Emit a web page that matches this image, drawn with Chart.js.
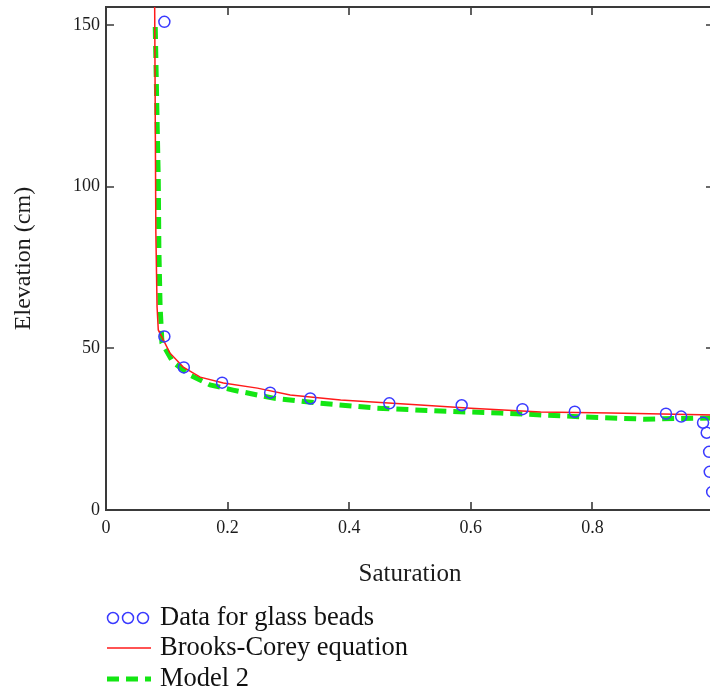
<!DOCTYPE html>
<html>
<head>
<meta charset="utf-8">
<title>Saturation profile</title>
<script src="https://cdn.jsdelivr.net/npm/chart.js@4.4.1/dist/chart.umd.min.js"></script>
<style>
  html, body { margin: 0; padding: 0; background: #fff; overflow: hidden; }
  #wrap { position: relative; width: 730px; height: 689px; }
</style>
</head>
<body>
<div id="wrap"><canvas id="chart"></canvas></div>
<script>
// measured saturation vs elevation, glass beads column
const beadS = [0.096, 0.096, 0.128, 0.191, 0.270, 0.336, 0.466, 0.585, 0.685, 0.771, 0.921, 0.946, 0.982, 0.988, 0.992, 0.993, 0.997];
const beadZ = [151, 53.7, 44.1, 39.4, 36.3, 34.5, 33.0, 32.4, 31.2, 30.4, 29.8, 28.9, 27.0, 23.9, 18.0, 11.8, 5.6];

// Brooks-Corey fit
const bcS = [0.080, 0.082, 0.084, 0.086, 0.092, 0.105, 0.127, 0.155, 0.193, 0.249, 0.303, 0.386, 0.517, 0.600, 0.715, 0.830, 1.0];
const bcZ = [158, 85.7, 62.8, 55.7, 53.5, 48.6, 44.2, 41.1, 39.3, 37.7, 35.6, 34.0, 32.5, 31.5, 30.3, 30.0, 29.4];

// second model
const m2S = [0.081, 0.084, 0.086, 0.087, 0.089, 0.091, 0.092, 0.110, 0.138, 0.171, 0.209, 0.275, 0.348, 0.446, 0.550, 0.649, 0.786, 0.885, 1.0];
const m2Z = [149.4, 120.6, 102, 80.4, 62.8, 55.7, 51.7, 45.8, 41.8, 38.7, 37.1, 34.6, 33.1, 31.5, 30.6, 30.0, 28.8, 28.1, 28.5];

const xTicks = [0, 0.2, 0.4, 0.6, 0.8];
const yTicks = [0, 50, 100, 150];
const seriesNames = ["Data for glass beads", "Brooks-Corey equation", "Model 2"];

const toPoints = (xs, ys) => xs.map((v, i) => ({ x: v, y: ys[i] }));

const SERIF = "'Liberation Serif', 'Times New Roman', serif";
const INK = "#1c1c1c";

// box round the plot with inward ticks on all four sides
const framePlugin = {
  id: "frame",
  beforeDatasetsDraw(chart) {
    const { ctx, chartArea: a, scales } = chart;
    const len = 8;
    ctx.save();
    ctx.strokeStyle = "#3a3a3a";
    ctx.lineWidth = 2;
    ctx.strokeRect(a.left, a.top, a.right - a.left, a.bottom - a.top);
    ctx.lineWidth = 1.6;
    ctx.beginPath();
    xTicks.forEach((v) => {
      if (v === 0) return;
      const px = Math.round(scales.x.getPixelForValue(v));
      ctx.moveTo(px, a.bottom);
      ctx.lineTo(px, a.bottom - len);
      ctx.moveTo(px, a.top);
      ctx.lineTo(px, a.top + len);
    });
    yTicks.forEach((v) => {
      if (v === 0) return;
      const py = Math.round(scales.y.getPixelForValue(v));
      ctx.moveTo(a.left, py);
      ctx.lineTo(a.left + len, py);
      ctx.moveTo(a.right, py);
      ctx.lineTo(a.right - len, py);
    });
    ctx.stroke();
    ctx.restore();
  },
};

// legend stacked under the axis title, left aligned
const legendPlugin = {
  id: "stackLegend",
  afterDraw(chart) {
    const { ctx } = chart;
    const ds = chart.data.datasets;
    const rows = [618, 648, 679];
    const symX = 107;
    const textX = 160;
    ctx.save();
    ctx.font = "26.5px " + SERIF;
    ctx.fillStyle = "#111";
    ctx.textBaseline = "middle";
    ds.forEach((d, i) => {
      const y = rows[i];
      ctx.fillText(d.label, textX, y);
      ctx.strokeStyle = d.borderColor;
      ctx.lineWidth = d.borderWidth;
      if (d.showLine === false) {
        [113, 128, 143].forEach((cx) => {
          ctx.beginPath();
          ctx.arc(cx, y, d.pointRadius, 0, Math.PI * 2);
          ctx.stroke();
        });
      } else {
        ctx.setLineDash(d.borderDash || []);
        ctx.beginPath();
        ctx.moveTo(symX, y);
        ctx.lineTo(symX + 44, y);
        ctx.stroke();
        ctx.setLineDash([]);
      }
    });
    ctx.restore();
  },
};

new Chart(document.getElementById("chart").getContext("2d"), {
  type: "scatter",
  data: {
    datasets: [
      {
        label: seriesNames[0],
        data: toPoints(beadS, beadZ),
        showLine: false,
        pointRadius: 5.5,
        pointBorderWidth: 1.5,
        borderWidth: 1.5,
        borderColor: "#3a3aff",
        pointBackgroundColor: "rgba(0,0,0,0)",
      },
      {
        label: seriesNames[1],
        data: toPoints(bcS, bcZ),
        showLine: true,
        tension: 0,
        pointRadius: 0,
        borderWidth: 1.5,
        borderColor: "#ff1a1a",
      },
      {
        label: seriesNames[2],
        data: toPoints(m2S, m2Z),
        showLine: true,
        tension: 0,
        pointRadius: 0,
        borderWidth: 5,
        borderDash: [12, 7],
        borderColor: "#13e613",
      },
    ],
  },
  options: {
    responsive: true,
    maintainAspectRatio: false,
    animation: false,
    layout: { padding: { top: 7, right: 16, left: 0, bottom: 0 } },
    plugins: {
      legend: { display: false },
      tooltip: { enabled: false },
    },
    scales: {
      x: {
        type: "linear",
        min: 0,
        max: 1,
        grid: { display: false, drawTicks: false },
        border: { display: false },
        afterBuildTicks: (scale) => {
          scale.ticks = xTicks.map((v) => ({ value: v }));
        },
        afterFit: (scale) => {
          scale.height = 179;
          scale.paddingLeft = 0;
          scale.paddingRight = 0;
        },
        ticks: {
          padding: 7,
          color: INK,
          maxRotation: 0,
          autoSkip: false,
          font: { family: SERIF, size: 18 },
        },
        title: {
          display: true,
          text: "Saturation",
          color: INK,
          font: { family: SERIF, size: 25 },
          padding: { top: 0, bottom: 100 },
        },
      },
      y: {
        type: "linear",
        min: 0,
        max: 155.6,
        grid: { display: false, drawTicks: false },
        border: { display: false },
        afterBuildTicks: (scale) => {
          scale.ticks = yTicks.map((v) => ({ value: v }));
        },
        afterFit: (scale) => {
          scale.width = 106;
          scale.paddingTop = 0;
          scale.paddingBottom = 0;
        },
        ticks: {
          padding: 6,
          color: INK,
          font: { family: SERIF, size: 18 },
        },
        title: {
          display: true,
          text: "Elevation (cm)",
          color: INK,
          font: { family: SERIF, size: 24 },
          padding: { top: 9, bottom: 0 },
        },
      },
    },
  },
  plugins: [framePlugin, legendPlugin],
});
</script>
</body>
</html>
